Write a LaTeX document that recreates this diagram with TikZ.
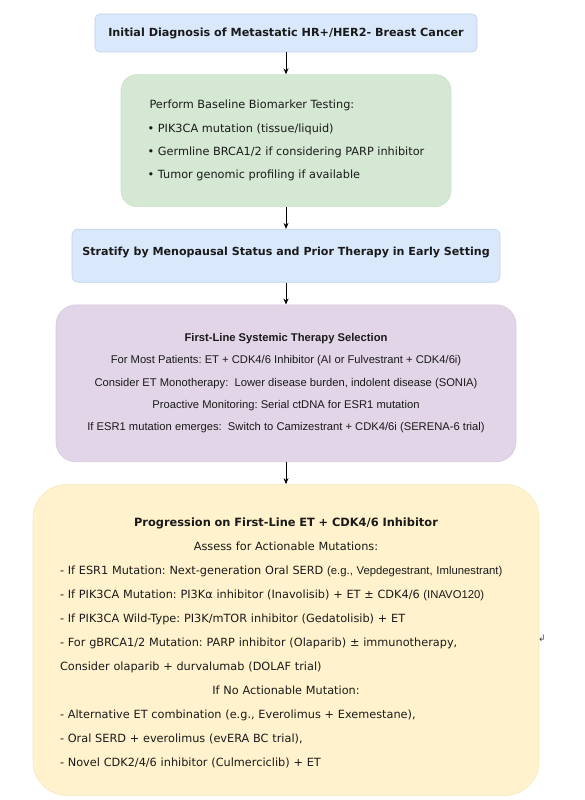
\documentclass[tikz,border=0pt]{standalone}
\usepackage{fontspec}
\setmainfont{DejaVu Sans}
\newfontfamily\arialfont{Liberation Sans}
\usetikzlibrary{positioning, arrows.meta}
\setlength{\parindent}{0pt}
\frenchspacing

\definecolor{blueFill}{HTML}{DAE8FC}
\definecolor{blueLine}{HTML}{BCD0EC}
\definecolor{greenFill}{HTML}{D5E8D4}
\definecolor{greenLine}{HTML}{C8DFC6}
\definecolor{purpleFill}{HTML}{E1D5E7}
\definecolor{purpleLine}{HTML}{D6C8DE}
\definecolor{yellowFill}{HTML}{FFF2CC}
\definecolor{yellowLine}{HTML}{F5E6BC}
\definecolor{inkGray}{HTML}{1A1A1A}

\begin{document}
\begin{tikzpicture}[x=1pt, y=-1pt, node distance=22pt,
  stage/.style={draw, rectangle, line width=0.6pt, inner sep=0pt, text=inkGray},
  flow/.style={-{Stealth[length=6pt, width=5pt]}, line width=0.9pt}]
  \useasboundingbox (0,0) rectangle (585,800);
  \node[stage, rounded corners=5pt, fill=blueFill, draw=blueLine, minimum width=382pt, minimum height=38pt, font=\fontsize{11.2}{13}\selectfont\bfseries] (diagnosis) at (286,33) {Initial Diagnosis of Metastatic HR+/HER2- Breast Cancer};
  \node[stage, rounded corners=16pt, fill=greenFill, draw=greenLine, minimum width=330pt, minimum height=132pt, align=left, font=\fontsize{11.3}{23.3}\selectfont] (testing) [below=of diagnosis] {\,Perform Baseline Biomarker Testing:\\• PIK3CA mutation (tissue/liquid)\\• Germline BRCA1/2 if considering PARP inhibitor\\• Tumor genomic profiling if available};
  \node[stage, rounded corners=6pt, fill=blueFill, draw=blueLine, minimum width=428pt, minimum height=53pt, text depth=9pt, font=\fontsize{11.1}{13}\selectfont\bfseries] (stratify) [below=of testing] {Stratify by Menopausal Status and Prior Therapy in Early Setting};
  \node[stage, rounded corners=20pt, fill=purpleFill, draw=purpleLine, minimum width=460pt, minimum height=157pt, align=center, font=\arialfont\fontsize{11.2}{22.3}\selectfont] (firstline) [below=of stratify] {\textbf{First-Line Systemic Therapy Selection}\\For Most Patients: ET + CDK4/6 Inhibitor (AI or Fulvestrant + CDK4/6i)\\Consider ET Monotherapy:\ \ Lower disease burden, indolent disease (SONIA)\\Proactive Monitoring: Serial ctDNA for ESR1 mutation\\If ESR1 mutation emerges:\ \ Switch to Camizestrant + CDK4/6i (SERENA-6 trial)};
  \node[stage, rounded corners=34pt, fill=yellowFill, draw=yellowLine, minimum width=506pt, minimum height=311pt, text width=452pt, align=left, font=\fontsize{11.3}{24}\selectfont] (progression) [below=of firstline] {%
    {\centering\rule{0pt}{14.5pt}{\fontsize{11.4}{24}\selectfont\bfseries Progression on First-Line ET + CDK4/6 Inhibitor}\par Assess for Actionable Mutations:\par}
    - If ESR1 Mutation: Next-generation Oral SERD {\arialfont\fontsize{11.3}{24}\selectfont (e.g., Vepdegestrant, Imlunestrant)}\par
    - If PIK3CA Mutation: PI3Kα inhibitor (Inavolisib) + ET ± CDK4/6 {\arialfont\fontsize{11.3}{24}\selectfont (INAVO120)}\par
    - If PIK3CA Wild-Type: PI3K/mTOR inhibitor (Gedatolisib) + ET\par
    - For gBRCA1/2 Mutation: PARP inhibitor (Olaparib) ± immunotherapy,\par
    Consider olaparib + durvalumab (DOLAF trial)\par
    {\centering If No Actionable Mutation:\par}
    - Alternative ET combination (e.g., Everolimus + Exemestane),\par
    - Oral SERD + everolimus (evERA BC trial),\par
    - Novel CDK2/4/6 inhibitor (Culmerciclib) + ET};
  \node[font=\fontsize{9}{10}\selectfont, text=darkgray] (returnMark) at (542,638) {↲};
  \draw[flow] (diagnosis) -- (testing);
  \draw[flow] (testing) -- (stratify);
  \draw[flow] (stratify) -- (firstline);
  \draw[flow] (firstline) -- (progression);
\end{tikzpicture}
\end{document}
